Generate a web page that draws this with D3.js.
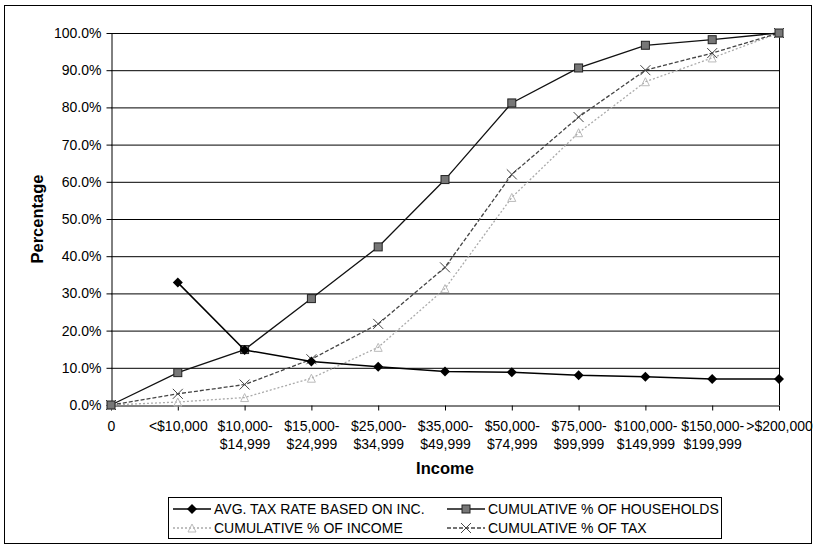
<!DOCTYPE html>
<html><head><meta charset="utf-8">
<script src="https://cdn.jsdelivr.net/npm/d3@7"></script>
<style>body{margin:0;background:#fff}</style>
</head><body>
<svg id="c" width="817" height="550"></svg>
<script>
const categories = ["0","<$10,000","$10,000-$14,999","$15,000-$24,999","$25,000-$34,999","$35,000-$49,999","$50,000-$74,999","$75,000-$99,999","$100,000-$149,999","$150,000-$199,999",">$200,000"];
const avgTaxRate = [null,0.329,0.148,0.117,0.103,0.090,0.088,0.080,0.076,0.070,0.070];
const cumHouseholds = [0,0.087,0.149,0.286,0.425,0.606,0.812,0.906,0.967,0.982,1.0];
const cumIncome = [0,0.008,0.020,0.072,0.155,0.313,0.558,0.732,0.869,0.933,1.0];
const cumTax = [0,0.030,0.055,0.123,0.218,0.370,0.620,0.774,0.900,0.946,1.0];
const yTicks = [0,0.1,0.2,0.3,0.4,0.5,0.6,0.7,0.8,0.9,1.0];
const seriesNames = ["AVG. TAX RATE BASED ON INC.","CUMULATIVE % OF HOUSEHOLDS","CUMULATIVE % OF INCOME","CUMULATIVE % OF TAX"];

const svg = d3.select("#c");
const font = "'Liberation Sans', Arial, sans-serif";
const L = 111, R = 779, T = 33, B = 405;

svg.append("rect").attr("x",4.5).attr("y",5.5).attr("width",807).attr("height",538)
  .attr("fill","none").attr("stroke","#000").attr("stroke-width",1);

const x = d3.scalePoint().domain(categories).range([L,R]).padding(0);
const y = d3.scaleLinear().domain([0,1]).range([B,T]);

// gridlines
svg.append("g").selectAll("line").data(yTicks.slice(1)).join("line")
  .attr("x1",L).attr("x2",R).attr("y1",d=>y(d)+0.5).attr("y2",d=>y(d)+0.5)
  .attr("stroke","#000").attr("stroke-width",1);
// right border
svg.append("line").attr("x1",R+0.5).attr("x2",R+0.5).attr("y1",T).attr("y2",B).attr("stroke","#000");

// y axis
const yAxis = svg.append("g").attr("transform",`translate(${L+0.5},0)`)
  .call(d3.axisLeft(y).tickValues(yTicks).tickFormat(d3.format(".1%")).tickSize(5).tickSizeOuter(0));
yAxis.select(".domain").attr("stroke","#000");
yAxis.selectAll("text").attr("font-family",font).attr("font-size","14px").attr("fill","#000").attr("x",-10);

// x axis
const xAxis = svg.append("g").attr("transform",`translate(0,${B+0.5})`)
  .call(d3.axisBottom(x).tickSize(5).tickSizeOuter(0).tickFormat(""));
xAxis.select(".domain").attr("stroke","#000");
xAxis.selectAll(".tick").each(function(d){
  const idx = d.indexOf("-");
  const lines = idx>0 ? [d.slice(0,idx+1), d.slice(idx+1)] : [d];
  const t = d3.select(this).append("text").attr("font-family",font).attr("font-size","14px")
    .attr("fill","#000").attr("text-anchor","middle");
  lines.forEach((s,i)=>t.append("tspan").attr("x",0).attr("y",25+i*18.5).text(s));
});

// axis titles
svg.append("text").attr("x",445).attr("y",474).attr("text-anchor","middle")
  .attr("font-family",font).attr("font-weight","bold").attr("font-size","16.5px").text("Income");
svg.append("text").attr("transform","translate(43,219) rotate(-90)").attr("text-anchor","middle")
  .attr("font-family",font).attr("font-weight","bold").attr("font-size","16.5px").text("Percentage");

const styles = [
  {data:avgTaxRate, stroke:"#000", dash:null, w:1.5, marker:"diamond"},
  {data:cumHouseholds, stroke:"#111", dash:null, w:1.3, marker:"square"},
  {data:cumIncome, stroke:"#aaa", dash:"2,2", w:1.3, marker:"triangle"},
  {data:cumTax, stroke:"#444", dash:"4,2", w:1.3, marker:"x"}
];

function drawMarker(g, type, cx, cy){
  if(type==="diamond"){
    g.append("path").attr("d",`M${cx},${cy-5}L${cx+5},${cy}L${cx},${cy+5}L${cx-5},${cy}Z`).attr("fill","#000");
  } else if(type==="square"){
    g.append("rect").attr("x",cx-4).attr("y",cy-4).attr("width",8).attr("height",8)
      .attr("fill","#777").attr("stroke","#222").attr("stroke-width",1);
  } else if(type==="triangle"){
    g.append("path").attr("d",`M${cx},${cy-4}L${cx+4},${cy+4}L${cx-4},${cy+4}Z`)
      .attr("fill","none").attr("stroke","#bbb").attr("stroke-width",1);
  } else {
    g.append("path").attr("d",`M${cx-5},${cy-5}L${cx+5},${cy+5}M${cx-5},${cy+5}L${cx+5},${cy-5}`)
      .attr("stroke","#444").attr("stroke-width",1);
  }
}

const line = d3.line().defined(d=>d.v!=null).x(d=>x(d.c)).y(d=>y(d.v));
// draw in order: income, tax, households, avg
[2,3,1,0].forEach(i=>{
  const s = styles[i];
  const pts = categories.map((c,j)=>({c, v:s.data[j]}));
  svg.append("path").datum(pts).attr("d",line).attr("fill","none")
    .attr("stroke",s.stroke).attr("stroke-width",s.w).attr("stroke-dasharray",s.dash);
  const g = svg.append("g");
  pts.filter(p=>p.v!=null).forEach(p=>drawMarker(g,s.marker,x(p.c),y(p.v)));
});

// legend
const lg = svg.append("g");
lg.append("rect").attr("x",168.5).attr("y",497.5).attr("width",553).attr("height",41)
  .attr("fill","#fff").attr("stroke","#000");
const legPos = [[173,509],[447,509],[173,528],[447,528]];
styles.forEach((s,i)=>{
  const [lx,ly] = legPos[i];
  lg.append("line").attr("x1",lx).attr("x2",lx+38).attr("y1",ly).attr("y2",ly)
    .attr("stroke",s.stroke).attr("stroke-width",s.w).attr("stroke-dasharray",s.dash);
  drawMarker(lg, s.marker, lx+19, ly);
  lg.append("text").attr("x",lx+41).attr("y",ly+5).attr("font-family",font).attr("font-size","14px")
    .text(seriesNames[i]);
});
</script>
</body></html>
